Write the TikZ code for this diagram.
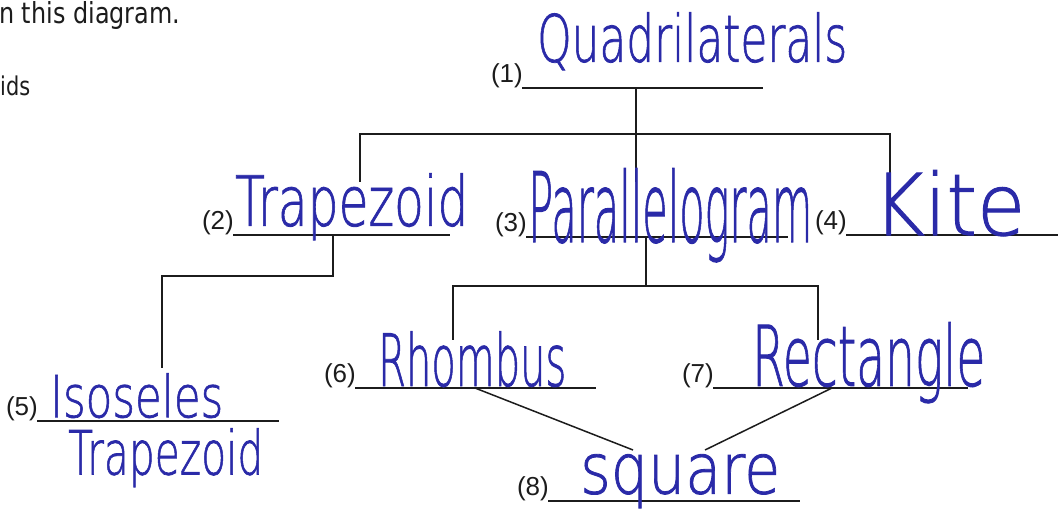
\documentclass[tikz,border=0pt]{standalone}
\usepackage{fontspec}
\setmainfont{Liberation Sans}
\newfontfamily\hwfont[FakeBold=1.2]{DejaVu Sans ExtraLight}
\newfontfamily\prfont{Liberation Sans}
\newfontfamily\pgfont{DejaVu Sans}
\definecolor{ink}{RGB}{42,42,168}
\definecolor{prt}{RGB}{28,28,28}
\newcommand{\hwbox}[3]{\resizebox*{#1pt}{#2pt}{\hwfont #3}}
\begin{document}
\begin{tikzpicture}[x=1pt,y=-1pt,
  conn/.style={line width=1.5pt, draw=prt, line cap=butt},
  num/.style={anchor=base east, inner sep=0pt, font=\prfont\fontsize{26}{26}\selectfont, text=prt},
  hw/.style={anchor=north west, inner sep=0pt, text=ink},
  prose/.style={anchor=north west, inner sep=0pt, text=prt}]
\useasboundingbox (0,0) rectangle (1058,510);
\fill[white] (0,0) rectangle (1058,510);

% page text
\node[prose] (p1) at (-1,1) {\resizebox*{181pt}{28pt}{\pgfont n this diagram.}};
\node[prose] (p2) at (0,76) {\resizebox*{30pt}{20pt}{\pgfont ids}};

% answer lines
\coordinate (l1a) at (522,88);  \coordinate (l1b) at (763,88);  \coordinate (l1m) at (636,88);
\coordinate (l2a) at (233,235); \coordinate (l2b) at (450,235); \coordinate (l2m) at (333,235);
\coordinate (l3a) at (526,237); \coordinate (l3b) at (788,237); \coordinate (l3m) at (646,237);
\coordinate (l4a) at (846,235); \coordinate (l4b) at (1058,235);
\coordinate (l5a) at (37,421);  \coordinate (l5b) at (279,421);
\coordinate (l6a) at (355,388); \coordinate (l6b) at (596,388); \coordinate (l6m) at (475,388);
\coordinate (l7a) at (713,388); \coordinate (l7b) at (968,388); \coordinate (l7m) at (832,388);
\coordinate (l8a) at (548,501); \coordinate (l8b) at (800,501);

\foreach \i in {1,...,8} {\draw[conn] (l\i a) -- (l\i b);}

% tree connectors
\coordinate (b1m) at (636,134); \coordinate (b1l) at (360,134); \coordinate (b1r) at (890,134);
\coordinate (d2) at (360,182); \coordinate (d3) at (636,182); \coordinate (d4) at (890,182);
\draw[conn] (l1m) -- (b1m);
\draw[conn] (d2) -- (b1l) -- (b1r) -- (d4);
\draw[conn] (b1m) -- (d3);

\coordinate (t2a) at (333,276); \coordinate (t2b) at (162,276); \coordinate (d5) at (162,368);
\draw[conn] (l2m) -- (t2a) -- (t2b) -- (d5);

\coordinate (b3m) at (646,286); \coordinate (b3l) at (453,286); \coordinate (b3r) at (818,286);
\coordinate (d6) at (453,340); \coordinate (d7) at (818,340);
\draw[conn] (l3m) -- (b3m);
\draw[conn] (d6) -- (b3l) -- (b3r) -- (d7);

\coordinate (s1) at (633,450); \coordinate (s2) at (705,450);
\draw[conn] (l6m) -- (s1);
\draw[conn] (l7m) -- (s2);

% numbers
\node[num] (n1) at (523,83) {(1)};
\node[num] (n2) at (234,230) {(2)};
\node[num] (n3) at (527,232) {(3)};
\node[num] (n4) at (847,230) {(4)};
\node[num] (n5) at (38,416) {(5)};
\node[num] (n6) at (356,383) {(6)};
\node[num] (n7) at (714,383) {(7)};
\node[num] (n8) at (549,496) {(8)};

% handwritten answers
\node[hw] (a1) at (537,12)  {\hwbox{310}{58}{Quadrilaterals}};
\node[hw] (a2) at (235,173) {\hwbox{233}{67}{Trapezoid}};
\node[hw] (a3) at (528,168) {\hwbox{284}{94}{Parallelogram}};
\node[hw] (a4) at (873,170) {\hwbox{152}{66}{Kite}};
\node[hw] (a5a) at (50,373) {\hwbox{173}{45}{Isoseles}};
\node[hw] (a5b) at (68,428) {\hwbox{195}{59}{Trapezoid}};
\node[hw] (a6) at (378,331) {\hwbox{188}{56}{Rhombus}};
\node[hw] (a7) at (752,322) {\hwbox{233}{81}{Rectangle}};
\node[hw] (a8) at (580,454) {\hwbox{200}{54}{square}};
\end{tikzpicture}
\end{document}
